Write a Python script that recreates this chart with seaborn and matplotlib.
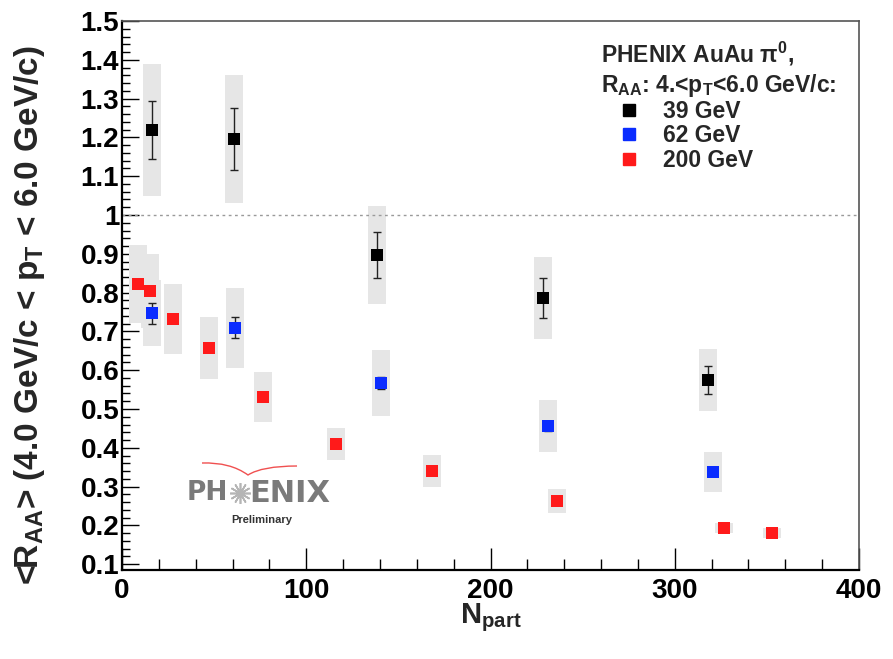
import numpy as np
import pandas as pd
import matplotlib
matplotlib.use("Agg")
import matplotlib.pyplot as plt
from matplotlib.lines import Line2D
from matplotlib.path import Path
from matplotlib.patches import PathPatch
import seaborn as sns

# ---------------- data ----------------
energies = ["39 GeV", "62 GeV", "200 GeV"]

npart_39 = [16.3, 60.8, 138.4, 228.5, 318.0]
raa_39 = [1.219, 1.196, 0.897, 0.786, 0.575]
stat_39 = [0.075, 0.080, 0.059, 0.051, 0.037]
sys_39 = [0.169, 0.165, 0.127, 0.106, 0.080]

npart_62 = [16.3, 61.3, 140.6, 231.2, 320.7]
raa_62 = [0.747, 0.709, 0.567, 0.456, 0.338]
stat_62 = [0.027, 0.027, 0.015, 0.012, 0.010]
sys_62 = [0.085, 0.104, 0.085, 0.068, 0.051]

npart_200 = [8.7, 15.2, 27.7, 47.2, 76.5, 116.1, 168.2, 236.1, 326.7, 352.8]
raa_200 = [0.822, 0.804, 0.732, 0.657, 0.531, 0.410, 0.340, 0.263, 0.193, 0.180]
stat_200 = [0.008, 0.008, 0.007, 0.006, 0.005, 0.004, 0.004, 0.003, 0.003, 0.003]
sys_200 = [0.100, 0.095, 0.089, 0.080, 0.064, 0.042, 0.041, 0.032, 0.012, 0.012]

x_ticks = [0, 100, 200, 300, 400]
y_ticks = [0.1, 0.2, 0.3, 0.4, 0.5, 0.6, 0.7, 0.8, 0.9, 1.0, 1.1, 1.2, 1.3, 1.4, 1.5]
y_ticklabels = ["0.1", "0.2", "0.3", "0.4", "0.5", "0.6", "0.7", "0.8", "0.9",
                "1", "1.1", "1.2", "1.3", "1.4", "1.5"]

colors = {"39 GeV": "#000000", "62 GeV": "#0a2cff", "200 GeV": "#ff1a1a"}

series = {
    "39 GeV": (npart_39, raa_39, stat_39, sys_39),
    "62 GeV": (npart_62, raa_62, stat_62, sys_62),
    "200 GeV": (npart_200, raa_200, stat_200, sys_200),
}

frames = []
for e in energies:
    n, r, st, sy = series[e]
    frames.append(pd.DataFrame({"npart": n, "raa": r, "stat": st, "sys": sy, "energy": e}))
df = pd.concat(frames, ignore_index=True)

# ---------------- style ----------------
sns.set_theme(style="ticks")
plt.rcParams["font.family"] = ["Liberation Sans", "DejaVu Sans"]
plt.rcParams["font.weight"] = "bold"
plt.rcParams["mathtext.fontset"] = "custom"
plt.rcParams["mathtext.rm"] = "Liberation Sans:bold"
plt.rcParams["mathtext.bf"] = "Liberation Sans:bold"
plt.rcParams["mathtext.it"] = "Liberation Sans:bold"
plt.rcParams["mathtext.default"] = "bf"

W, H = 893, 659
fig = plt.figure(figsize=(W / 100, H / 100), dpi=100)
fig.patch.set_facecolor("white")
ax = fig.add_axes([122 / W, 1 - 570 / H, (859 - 122) / W, (570 - 21) / H])
ax.set_facecolor("white")

# systematic boxes
ax.bar(df["npart"], 2 * df["sys"], bottom=df["raa"] - df["sys"], width=10,
       color="#e6e6e6", linewidth=0, zorder=1)

# reference line at 1
ax.axhline(1.0, color="#9a9a9a", lw=1.0, ls=(0, (2, 2.5)), zorder=1.5)

# stat error bars
for e in energies:
    sub = df[df["energy"] == e]
    ax.errorbar(sub["npart"], sub["raa"], yerr=sub["stat"], fmt="none",
                ecolor="#222222", elinewidth=1.0, capsize=3, capthick=1.0, zorder=2)

sns.scatterplot(data=df, x="npart", y="raa", hue="energy", palette=colors,
                hue_order=energies, marker="s", s=78, linewidth=0, legend=False,
                ax=ax, zorder=3)

ax.set_xlim(0, 400)
ax.set_ylim(0.085, 1.5)
ax.set_xticks(x_ticks)
ax.set_xticklabels([str(v) for v in x_ticks])
ax.set_yticks(y_ticks)
ax.set_yticklabels(y_ticklabels)
ax.set_xticks(np.arange(0, 401, 20), minor=True)
ax.set_yticks(np.arange(0.1, 1.5001, 0.02), minor=True)

ax.tick_params(axis="both", which="both", direction="in", colors="black",
               labelsize=20)
ax.tick_params(axis="x", which="major", length=16, width=1.0, pad=6)
ax.tick_params(axis="x", which="minor", length=8, width=1.0)
ax.tick_params(axis="y", which="major", length=12, width=1.0, pad=2)
ax.tick_params(axis="y", which="minor", length=6, width=1.0)
for lab in ax.get_xticklabels() + ax.get_yticklabels():
    lab.set_fontweight("bold")

for side in ["left", "bottom"]:
    ax.spines[side].set_color("black")
    ax.spines[side].set_linewidth(1.6)
for side in ["top", "right"]:
    ax.spines[side].set_color("#555555")
    ax.spines[side].set_linewidth(1.2)

ax.set_xlabel(r"N$_{part}$", fontsize=21, fontweight="bold")
ax.xaxis.set_label_coords(0.50, -0.058)
ax.set_ylabel(r"<R$_{AA}$> (4.0 GeV/c < p$_{T}$ < 6.0 GeV/c)", fontsize=24,
              fontweight="bold")
ax.yaxis.set_label_coords(-0.102, 0.464)

# legend
handles = [Line2D([], [], marker="s", ls="none", color=colors[e], markersize=8.6)
           for e in energies]
leg = ax.legend(handles, energies,
                title="PHENIX AuAu $\\pi^{0}$,\nR$_{AA}$: 4.<p$_{T}$<6.0 GeV/c:",
                loc="upper left", bbox_to_anchor=(601 / W, 1 - 40 / H),
                bbox_transform=fig.transFigure, frameon=False,
                prop={"size": 16.5, "weight": "bold"},
                title_fontproperties={"size": 16.5, "weight": "bold"},
                alignment="left", handlelength=2.4, handletextpad=0.3,
                labelspacing=0.05, borderpad=0, borderaxespad=0)
leg.get_title().set_linespacing(1.2)

# PHENIX preliminary logo (decoration)
def fx(px):
    return px / W

def fy(py):
    return 1 - py / H

fig.text(fx(228), fy(493), "PH", ha="right", va="center", fontsize=19,
         fontweight="bold", color="#7a7a7a", family="DejaVu Sans")
fig.text(fx(249), fy(493), "ENIX", ha="left", va="center", fontsize=22,
         fontweight="bold", color="#7a7a7a", family="DejaVu Sans")
fig.add_artist(Line2D([fx(240)], [fy(493)], marker=(12, 2, 0), markersize=15,
                      color="#b5b5b5", markeredgewidth=1.2, transform=fig.transFigure))
fig.text(fx(262), fy(520), "Preliminary", ha="center", va="center", fontsize=8,
         fontweight="bold", color="#333333")
verts = [(fx(202), fy(463)), (fx(230), fy(462)), (fx(248), fy(475)),
         (fx(262), fy(466)), (fx(297), fy(466))]
codes = [Path.MOVETO, Path.CURVE3, Path.CURVE3, Path.CURVE3, Path.CURVE3]
fig.add_artist(PathPatch(Path(verts, codes), fill=False, edgecolor="#f05050",
                         lw=1.0, transform=fig.transFigure))

fig.savefig("out.png", dpi=100, facecolor="white")
